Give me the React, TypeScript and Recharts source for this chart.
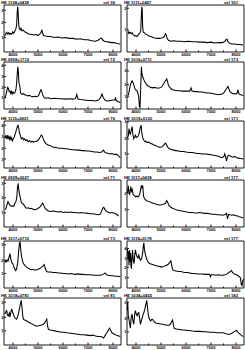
import { Line, LineChart, ReferenceArea, XAxis, YAxis } from "recharts";

const WAVE_DOMAIN = [3640, 8320];
const WAVE_TICKS = [4000, 4500, 5000, 5500, 6000, 6500, 7000, 7500, 8000];

const NAMES = [
  "HE 1108+0438", "HE 1111+0457",
  "HE 0959+1712", "HE 1016+0711",
  "HE 1115+0821", "HE 1019+0120",
  "HE 0929+0027", "HE 1117+0438",
  "HE 1017+0715", "HE 1118+0178",
  "HE 1018+0781", "HE 1034+0455",
];
const VELS = ["vel 36", "vel 101", "vel 72", "vel 173", "vel 76", "vel 171", "vel 71", "vel 177", "vel 73", "vel 177", "vel 81", "vel 182"];

const Y_TICKS = [
  [31, 63, 89], [47, 93],
  [24, 46, 69, 93], [26, 52, 81],
  [19, 42, 66, 91], [30, 62, 98],
  [30, 62, 93], [37, 72],
  [31, 59, 92], [22, 44, 62, 84],
  [30, 59, 91], [28, 57, 91],
];
const Y_LABELS = ["1", "2", "3", "4"];

const SPEC_1 = [
  [3670, 34], [3710, 39], [3750, 42], [3790, 38], [3830, 41], [3870, 37], [3910, 40], [3950, 38], [3990, 43], [4030, 40],
  [4070, 44], [4110, 48], [4145, 57], [4170, 86], [4190, 96], [4205, 84], [4225, 62], [4250, 50], [4285, 47], [4320, 51],
  [4360, 45], [4410, 47], [4460, 43], [4520, 42], [4600, 39], [4680, 38], [4760, 37], [4840, 36], [4920, 37], [5000, 35],
  [5070, 38], [5120, 42], [5155, 46], [5185, 40], [5230, 35], [5300, 34], [5400, 33], [5500, 33], [5650, 31], [5800, 32],
  [5950, 30], [6100, 31], [6250, 29], [6400, 29], [6550, 27], [6700, 28], [6850, 26], [7000, 26], [7150, 24], [7300, 23],
  [7400, 25], [7470, 28], [7530, 30], [7580, 26], [7650, 23], [7750, 22], [7850, 21], [7950, 20], [8050, 20], [8150, 18], [8290, 17],
];
const SPEC_2 = [
  [3680, 38], [3710, 43], [3740, 40], [3775, 42], [3810, 39], [3845, 41], [3880, 37], [3915, 36], [3950, 34], [3990, 35],
  [4030, 33], [4070, 35], [4110, 38], [4150, 40], [4190, 45], [4215, 80], [4235, 96], [4250, 90], [4265, 55], [4290, 42],
  [4330, 41], [4380, 38], [4440, 37], [4520, 34], [4600, 33], [4680, 31], [4760, 30], [4850, 29], [4940, 29], [5020, 30],
  [5090, 31], [5140, 34], [5180, 39], [5210, 36], [5250, 28], [5300, 25], [5380, 23], [5500, 24], [5650, 23], [5800, 23],
  [5950, 22], [6100, 23], [6250, 22], [6400, 22], [6550, 21], [6700, 21], [6850, 20], [7000, 21], [7150, 19], [7300, 20],
  [7450, 20], [7550, 22], [7600, 26], [7640, 27], [7680, 22], [7760, 18], [7850, 17], [7950, 17], [8050, 16], [8150, 16], [8290, 15],
];
const SPEC_3 = [
  [3680, 24], [3720, 30], [3760, 40], [3790, 46], [3820, 43], [3850, 37], [3880, 38], [3910, 33], [3940, 37], [3970, 32],
  [4000, 36], [4040, 33], [4080, 35], [4120, 42], [4150, 58], [4175, 80], [4195, 90], [4215, 78], [4240, 55], [4270, 50],
  [4300, 35], [4340, 32], [4380, 31], [4420, 33], [4470, 30], [4520, 30], [4580, 28], [4650, 29], [4720, 27], [4800, 26],
  [4880, 27], [4950, 26], [5010, 28], [5050, 32], [5090, 38], [5120, 41], [5150, 37], [5190, 30], [5250, 24], [5330, 23],
  [5420, 24], [5520, 22], [5650, 23], [5800, 22], [5950, 22], [6100, 21], [6250, 22], [6400, 21], [6500, 22], [6550, 31],
  [6600, 21], [6700, 20], [6850, 19], [7000, 18], [7150, 18], [7300, 17], [7420, 19], [7500, 24], [7560, 32], [7610, 24],
  [7700, 18], [7800, 17], [7900, 18], [8000, 19], [8080, 19], [8100, 25], [8130, 18], [8200, 16], [8290, 14],
];
const SPEC_4 = [
  [3680, 28], [3720, 36], [3760, 48], [3800, 55], [3842, 60], [3880, 56], [3910, 52], [3945, 45], [3977, 41], [4010, 40],
  [4045, 38], [4080, 33], [4112, 24], [4135, 5], [4160, 3], [4185, 40], [4215, 90], [4240, 74], [4270, 68], [4315, 62],
  [4350, 58], [4382, 55], [4430, 52], [4480, 49], [4520, 48], [4580, 46], [4650, 45], [4730, 46], [4800, 45], [4880, 44],
  [4960, 45], [5030, 47], [5090, 52], [5130, 56], [5180, 60], [5230, 64], [5260, 58], [5300, 50], [5340, 47], [5400, 43],
  [5460, 41], [5550, 40], [5650, 39], [5750, 39], [5850, 38], [5950, 38], [6050, 38], [6150, 38], [6200, 45], [6240, 38],
  [6350, 37], [6450, 37], [6550, 36], [6650, 36], [6750, 35], [6850, 34], [6950, 34], [7050, 33], [7150, 32], [7250, 31],
  [7350, 31], [7450, 32], [7520, 35], [7580, 40], [7630, 44], [7680, 48], [7720, 42], [7760, 37], [7830, 34], [7890, 32],
  [7960, 33], [8030, 32], [8080, 41], [8110, 33], [8160, 31], [8230, 30], [8294, 28],
];
const SPEC_5 = [
  [3680, 64], [3710, 68], [3740, 62], [3770, 70], [3800, 63], [3830, 67], [3860, 61], [3890, 66], [3920, 60], [3950, 64],
  [3980, 58], [4010, 62], [4050, 66], [4090, 73], [4130, 80], [4170, 88], [4200, 91], [4230, 84], [4260, 75], [4290, 70],
  [4320, 64], [4350, 62], [4390, 64], [4430, 60], [4470, 62], [4510, 58], [4560, 60], [4610, 56], [4660, 58], [4710, 55],
  [4760, 57], [4810, 55], [4870, 56], [4930, 57], [4990, 58], [5040, 62], [5090, 66], [5130, 70], [5170, 68], [5210, 62],
  [5260, 56], [5320, 52], [5400, 49], [5480, 48], [5560, 45], [5650, 44], [5750, 43], [5850, 42], [5950, 42], [6050, 41],
  [6150, 41], [6250, 40], [6350, 39], [6450, 39], [6550, 38], [6650, 38], [6750, 37], [6850, 37], [6950, 36], [7050, 36],
  [7150, 35], [7250, 34], [7350, 34], [7450, 33], [7550, 34], [7620, 38], [7680, 33], [7750, 32], [7850, 30], [7950, 31],
  [8050, 29], [8150, 29], [8220, 26], [8293, 22],
];
const SPEC_6 = [
  [3660, 64], [3690, 68], [3720, 84], [3750, 74], [3780, 72], [3810, 80], [3845, 88], [3880, 70], [3910, 62], [3945, 66],
  [3977, 70], [4010, 65], [4045, 66], [4090, 68], [4130, 75], [4170, 86], [4205, 91], [4235, 74], [4270, 64], [4315, 59],
  [4360, 56], [4400, 57], [4450, 54], [4517, 55], [4580, 52], [4652, 51], [4720, 49], [4787, 48], [4850, 46], [4922, 44],
  [5000, 44], [5060, 46], [5120, 49], [5170, 53], [5210, 51], [5260, 45], [5326, 41], [5400, 40], [5500, 38], [5596, 37],
  [5700, 36], [5800, 35], [5900, 35], [6000, 34], [6136, 33], [6250, 33], [6350, 32], [6450, 31], [6550, 31], [6650, 30],
  [6810, 30], [6900, 29], [7000, 28], [7100, 27], [7215, 26], [7300, 25], [7380, 23], [7450, 22], [7520, 25], [7552, 30],
  [7590, 22], [7620, 15], [7660, 24], [7700, 27], [7755, 26], [7820, 24], [7880, 23], [7950, 25], [8024, 22], [8100, 21],
  [8180, 20], [8294, 19],
];
const SPEC_7 = [
  [3680, 37], [3720, 40], [3760, 47], [3800, 54], [3830, 51], [3870, 47], [3910, 45], [3950, 44], [3990, 45], [4030, 44],
  [4070, 50], [4110, 53], [4150, 62], [4180, 84], [4205, 93], [4230, 80], [4260, 70], [4290, 63], [4330, 53], [4370, 50],
  [4415, 49], [4460, 45], [4510, 41], [4560, 40], [4620, 41], [4680, 39], [4740, 40], [4800, 38], [4870, 37], [4940, 38],
  [5010, 40], [5080, 43], [5140, 47], [5190, 51], [5230, 46], [5280, 40], [5350, 36], [5420, 34], [5500, 33], [5600, 34],
  [5700, 33], [5800, 32], [5900, 33], [6000, 31], [6100, 32], [6200, 31], [6300, 32], [6400, 31], [6500, 31], [6600, 30],
  [6700, 31], [6800, 30], [6900, 30], [7000, 29], [7100, 28], [7200, 28], [7300, 27], [7400, 26], [7480, 27], [7540, 33],
  [7600, 41], [7630, 42], [7680, 37], [7740, 33], [7800, 32], [7880, 30], [7960, 31], [8025, 30], [8100, 28], [8170, 26], [8226, 23],
];
const SPEC_8 = [
  [3660, 72], [3690, 88], [3720, 74], [3750, 70], [3790, 86], [3820, 76], [3850, 80], [3880, 70], [3910, 68], [3950, 66],
  [3990, 64], [4030, 66], [4070, 64], [4112, 66], [4150, 70], [4185, 80], [4220, 89], [4245, 82], [4270, 88], [4300, 66],
  [4340, 60], [4382, 58], [4430, 56], [4480, 55], [4540, 54], [4600, 52], [4660, 51], [4720, 50], [4787, 49], [4850, 48],
  [4922, 47], [4990, 47], [5060, 48], [5120, 49], [5180, 51], [5230, 56], [5270, 52], [5326, 45], [5400, 42], [5461, 40],
  [5550, 38], [5640, 36], [5731, 35], [5830, 34], [5930, 33], [6030, 32], [6136, 31], [6250, 31], [6350, 30], [6450, 30],
  [6550, 31], [6650, 30], [6750, 29], [6850, 29], [6950, 28], [7050, 27], [7150, 27], [7250, 26], [7350, 26], [7450, 25],
  [7550, 26], [7620, 29], [7660, 17], [7700, 27], [7760, 26], [7830, 25], [7900, 26], [7980, 24], [8050, 24], [8120, 22],
  [8200, 21], [8294, 19],
];
const SPEC_9 = [
  [3680, 58], [3720, 55], [3760, 60], [3800, 57], [3840, 65], [3880, 73], [3910, 62], [3950, 54], [3990, 52], [4030, 46],
  [4070, 40], [4110, 37], [4150, 42], [4190, 55], [4230, 80], [4260, 95], [4282, 99], [4305, 84], [4340, 68], [4380, 58],
  [4415, 52], [4460, 49], [4510, 46], [4560, 44], [4620, 42], [4680, 40], [4740, 39], [4800, 40], [4870, 38], [4940, 39],
  [5010, 40], [5080, 42], [5140, 44], [5200, 47], [5250, 50], [5290, 42], [5340, 35], [5400, 34], [5500, 34], [5600, 33],
  [5700, 33], [5800, 32], [5900, 32], [6000, 31], [6100, 31], [6200, 30], [6300, 31], [6400, 30], [6500, 29], [6600, 30],
  [6700, 29], [6800, 29], [6900, 28], [7000, 28], [7100, 28], [7200, 27], [7300, 27], [7400, 27], [7500, 27], [7600, 29],
  [7680, 32], [7740, 28], [7800, 27], [7900, 26], [8000, 26], [8100, 25], [8200, 25], [8290, 24],
];
const SPEC_10 = [
  [3660, 84], [3680, 62], [3700, 78], [3720, 48], [3740, 81], [3760, 56], [3780, 75], [3800, 45], [3820, 41], [3840, 66],
  [3860, 81], [3890, 60], [3923, 52], [3950, 70], [3977, 81], [4010, 72], [4045, 66], [4080, 64], [4112, 70], [4150, 62],
  [4180, 59], [4220, 62], [4260, 72], [4290, 88], [4315, 96], [4340, 80], [4382, 70], [4420, 62], [4449, 59], [4490, 55],
  [4540, 52], [4600, 51], [4660, 50], [4720, 49], [4787, 48], [4850, 47], [4920, 46], [4990, 45], [5056, 45], [5120, 46],
  [5200, 48], [5280, 50], [5340, 54], [5394, 58], [5430, 48], [5461, 39], [5530, 37], [5600, 36], [5700, 35], [5800, 35],
  [5866, 34], [5950, 33], [6050, 33], [6150, 32], [6250, 31], [6350, 31], [6450, 30], [6540, 30], [6650, 30], [6750, 29],
  [6850, 29], [6945, 29], [6980, 24], [7013, 28], [7100, 28], [7200, 27], [7300, 28], [7400, 27], [7485, 27], [7560, 28],
  [7640, 30], [7720, 33], [7790, 36], [7822, 37], [7860, 33], [7920, 30], [7957, 29], [8020, 28], [8080, 26], [8140, 24],
  [8180, 21], [8210, 8], [8240, 5], [8270, 16], [8321, 19],
];
const SPEC_11 = [
  [3680, 66], [3710, 70], [3747, 73], [3780, 64], [3814, 62], [3850, 68], [3880, 60], [3915, 70], [3948, 77], [3980, 70],
  [4014, 66], [4050, 60], [4081, 58], [4115, 56], [4148, 55], [4180, 60], [4215, 66], [4260, 78], [4300, 88], [4330, 95],
  [4360, 80], [4390, 62], [4415, 55], [4470, 53], [4549, 51], [4610, 49], [4683, 47], [4760, 45], [4850, 42], [4950, 40],
  [5030, 41], [5100, 42], [5170, 43], [5218, 44], [5280, 48], [5320, 52], [5351, 55], [5385, 40], [5418, 33], [5500, 32],
  [5619, 31], [5750, 29], [5850, 28], [5950, 27], [6050, 27], [6154, 26], [6300, 25], [6450, 24], [6600, 23], [6700, 22],
  [6822, 22], [6950, 21], [7100, 20], [7200, 21], [7300, 19], [7400, 18], [7491, 18], [7560, 17], [7624, 15], [7680, 20],
  [7740, 25], [7800, 30], [7840, 34], [7865, 36], [7900, 32], [7959, 26], [8020, 24], [8092, 22], [8160, 20], [8230, 19], [8293, 18],
];
const SPEC_12 = [
  [3655, 73], [3670, 91], [3690, 62], [3707, 58], [3740, 48], [3775, 36], [3810, 60], [3842, 66], [3875, 52], [3910, 44],
  [3945, 65], [3977, 73], [4010, 66], [4045, 62], [4080, 68], [4112, 69], [4150, 55], [4180, 44], [4215, 52], [4247, 58],
  [4280, 64], [4315, 69], [4360, 78], [4400, 88], [4430, 95], [4460, 80], [4490, 65], [4517, 58], [4550, 54], [4584, 51],
  [4620, 54], [4652, 55], [4720, 50], [4787, 47], [4860, 46], [4950, 45], [5056, 44], [5150, 43], [5240, 42], [5326, 42],
  [5390, 46], [5430, 50], [5461, 53], [5500, 42], [5529, 35], [5620, 34], [5731, 33], [5850, 32], [5950, 32], [6050, 31],
  [6136, 31], [6250, 30], [6400, 29], [6550, 29], [6700, 28], [6810, 28], [6950, 27], [7100, 27], [7250, 26], [7400, 26],
  [7485, 26], [7600, 24], [7700, 23], [7755, 23], [7830, 25], [7920, 28], [7980, 30], [8024, 31], [8080, 27], [8159, 23],
  [8230, 20], [8294, 18],
];

const SPECTRA = [SPEC_1, SPEC_2, SPEC_3, SPEC_4, SPEC_5, SPEC_6, SPEC_7, SPEC_8, SPEC_9, SPEC_10, SPEC_11, SPEC_12];

const ROW_TOPS = [0, 57, 116, 175, 236, 293];
const FONT = "'Liberation Sans', Arial, sans-serif";
const PANEL_W = 122;
const PANEL_H = 57;

function WaveTick({ x, y, payload }: any) {
  const major = payload.value % 1000 === 0;
  return (
    <g>
      <line x1={x} x2={x} y1={y} y2={y - (major ? 2.5 : 1.5)} stroke="#000" strokeWidth={0.9} />
      {major ? (
        <text x={x} y={y + 4.4} textAnchor="middle" fontSize={4} fontWeight={700} fontFamily={FONT} fill="#000">
          {payload.value}
        </text>
      ) : null}
    </g>
  );
}

function FluxTick({ x, y, index }: any) {
  return (
    <g>
      <line x1={x} x2={x + 2} y1={y} y2={y} stroke="#000" strokeWidth={0.9} />
      <text x={x - 0.6} y={y + 1.5} textAnchor="end" fontSize={4} fontWeight={700} fontFamily={FONT} fill="#000">
        {Y_LABELS[index]}
      </text>
    </g>
  );
}

function Panel({ index }: { index: number }) {
  const data = SPECTRA[index].map(([w, f]) => ({ w, f }));
  const left = index % 2 === 0 ? 0 : 123;
  const top = ROW_TOPS[Math.floor(index / 2)];

  return (
    <div style={{ position: "absolute", left, top, width: PANEL_W, height: PANEL_H }}>
      <LineChart width={PANEL_W} height={PANEL_H} data={data} margin={{ top: 5, right: 1, bottom: 0, left: 0 }}>
        <XAxis
          dataKey="w"
          type="number"
          domain={WAVE_DOMAIN}
          ticks={WAVE_TICKS}
          interval={0}
          height={5}
          tickSize={0}
          tickMargin={0}
          axisLine={false}
          tickLine={false}
          tick={WaveTick}
          allowDataOverflow
        />
        <YAxis
          type="number"
          domain={[0, 100]}
          ticks={Y_TICKS[index]}
          interval={0}
          width={4}
          tickSize={0}
          tickMargin={0}
          axisLine={false}
          tickLine={false}
          tick={FluxTick}
          allowDataOverflow
        />
        <ReferenceArea x1={3640} x2={8320} y1={0} y2={100} fill="none" stroke="#000" strokeWidth={0.9} />
        <Line dataKey="f" type="linear" dot={false} stroke="#000" strokeWidth={1.05} isAnimationActive={false} />
      </LineChart>
      <svg width={PANEL_W} height={6} style={{ position: "absolute", left: 0, top: 0 }}>
        <text x={1} y={4.2} fontSize={4.2} fontWeight={700} fontFamily={FONT} fill="#000">
          {NAMES[index]}
        </text>
        <text x={115} y={4.2} textAnchor="end" fontSize={4.2} fontWeight={700} fontFamily={FONT} fill="#000">
          {VELS[index]}
        </text>
      </svg>
    </div>
  );
}

export default function App() {
  return (
    <div style={{ position: "absolute", left: 0, top: 0, width: 245, height: 350, background: "#fff" }}>
      {SPECTRA.map((_, i) => (
        <Panel key={i} index={i} />
      ))}
    </div>
  );
}
